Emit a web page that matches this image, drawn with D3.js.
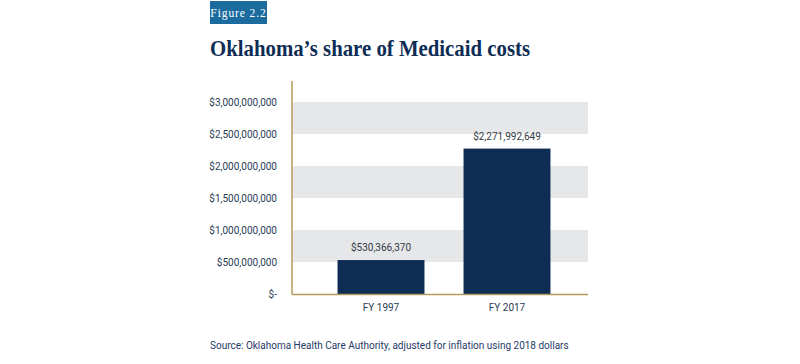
<!DOCTYPE html>
<html><head><meta charset="utf-8">
<script src="https://cdn.jsdelivr.net/npm/d3@7/dist/d3.min.js"></script>
<style>body{margin:0;background:#fff;}svg{display:block;}</style>
</head><body>
<svg id="c" width="800" height="364"></svg>
<script>
const categories = ["FY 1997", "FY 2017"];
const values = [530366370, 2271992649];
const valueLabels = ["$530,366,370", "$2,271,992,649"];
const yTicks = [0, 500000000, 1000000000, 1500000000, 2000000000, 2500000000, 3000000000];
const yTickLabels = ["$-", "$500,000,000", "$1,000,000,000", "$1,500,000,000", "$2,000,000,000", "$2,500,000,000", "$3,000,000,000"];

const svg = d3.select("#c");
const navy = "#0e2d55";
const gold = "#b39b5c";

// Figure tag
svg.append("rect").attr("x", 210).attr("y", 1).attr("width", 57).attr("height", 23).attr("fill", "#1b6b9e");
svg.append("text").attr("x", 238.5).attr("y", 16.5).attr("text-anchor", "middle")
  .attr("font-family", "Liberation Serif").attr("font-size", 11.5).attr("letter-spacing", 0.9)
  .attr("fill", "#fff").text("Figure 2.2");

// Title
svg.append("text").attr("x", 210).attr("y", 56)
  .attr("font-family", "Liberation Serif").attr("font-weight", "bold").attr("font-size", 24)
  .attr("textLength", 320).attr("lengthAdjust", "spacingAndGlyphs")
  .attr("fill", navy).text("Oklahoma’s share of Medicaid costs");

const y = d3.scaleLinear().domain([0, 3000000000]).range([294, 102]);
const x = d3.scaleBand().domain(categories).range([318, 570]).paddingInner(0.31).paddingOuter(0.155);
const plotL = 292, plotR = 588;

// alternating grey bands
for (let i = 0; i < yTicks.length - 1; i++) {
  if (i % 2 === 1) {
    svg.append("rect").attr("x", plotL).attr("width", plotR - plotL)
      .attr("y", y(yTicks[i + 1])).attr("height", y(yTicks[i]) - y(yTicks[i + 1]))
      .attr("fill", "#e6e7e9");
  }
}

// Y axis labels
const yAxis = d3.axisLeft(y).tickValues(yTicks).tickSize(0).tickPadding(15)
  .tickFormat((d, i) => yTickLabels[i]);
const ga = svg.append("g").attr("transform", `translate(${plotL},0)`).call(yAxis);
ga.select(".domain").remove();
ga.selectAll("text").attr("font-family", "Roboto").attr("font-size", 10).attr("fill", "#2a3b57");

// bars
svg.selectAll(".bar").data(values).join("rect").attr("class", "bar")
  .attr("x", (d, i) => x(categories[i])).attr("width", x.bandwidth())
  .attr("y", d => y(d)).attr("height", d => y(0) - y(d)).attr("fill", navy);

// value labels
svg.selectAll(".vl").data(values).join("text").attr("class", "vl")
  .attr("x", (d, i) => x(categories[i]) + x.bandwidth() / 2).attr("y", d => y(d) - 9)
  .attr("text-anchor", "middle").attr("font-family", "Roboto").attr("font-size", 10)
  .attr("fill", "#333a45").text((d, i) => valueLabels[i]);

// axis lines
svg.append("line").attr("x1", plotL).attr("x2", plotL).attr("y1", 81).attr("y2", 294.5)
  .attr("stroke", gold).attr("stroke-width", 1.5);
svg.append("line").attr("x1", plotL).attr("x2", plotR).attr("y1", 294.5).attr("y2", 294.5)
  .attr("stroke", gold).attr("stroke-width", 1.5);

// x axis labels
const xAxis = d3.axisBottom(x).tickSize(0).tickPadding(10);
const gx = svg.append("g").attr("transform", "translate(0,294)").call(xAxis);
gx.select(".domain").remove();
gx.selectAll("text").attr("font-family", "Roboto").attr("font-size", 10).attr("fill", "#2a3b57");

// source
svg.append("text").attr("x", 210).attr("y", 349).attr("font-family", "Roboto").attr("font-size", 10)
  .attr("fill", "#1f3a66").text("Source: Oklahoma Health Care Authority, adjusted for inflation using 2018 dollars");
</script>
</body></html>
